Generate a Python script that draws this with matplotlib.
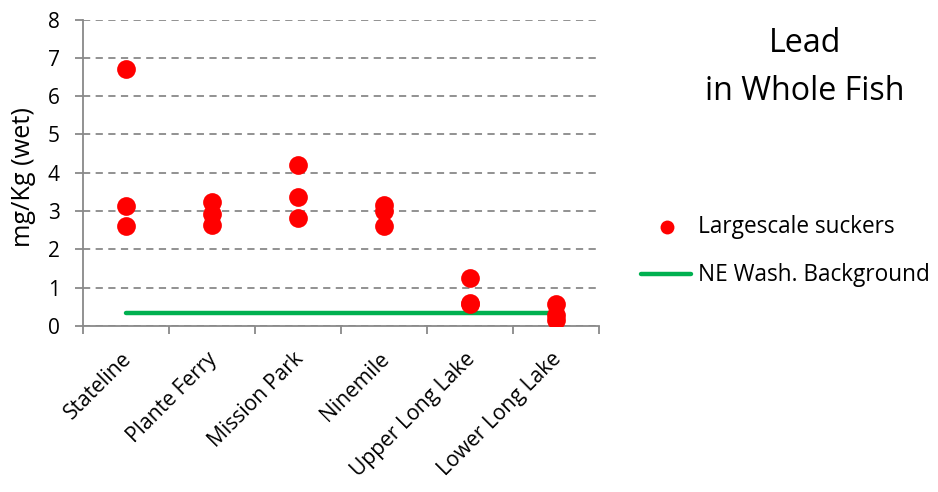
import matplotlib
matplotlib.use("Agg")
import matplotlib.pyplot as plt
from matplotlib.lines import Line2D
from matplotlib.font_manager import FontProperties
from matplotlib.textpath import TextToPath
from matplotlib.transforms import ScaledTranslation

sites = ["Stateline", "Plante Ferry", "Mission Park", "Ninemile", "Upper Long Lake", "Lower Long Lake"]
suckers = [
    [6.70, 3.14, 2.61],
    [3.24, 2.92, 2.63],
    [4.21, 3.36, 2.82],
    [3.16, 3.00, 2.61],
    [1.26, 0.58, 0.60],
    [0.57, 0.29, 0.15],
]
background = [0.33, 0.33, 0.33, 0.33, 0.33, 0.33]
yticks = [0, 1, 2, 3, 4, 5, 6, 7, 8]
legend_labels = ["Largescale suckers", "NE Wash. Background"]
title_lines = ["Lead", "in Whole Fish"]

FAMILY = 'Open Sans'
plt.rcParams['font.family'] = [FAMILY, 'DejaVu Sans']
_t2p = TextToPath()


def fit(text, target_px):
    w, h, d = _t2p.get_text_width_height_descent(text, FontProperties(family=FAMILY, size=100), ismath=False)
    return 100 * target_px / (w * 100 / 72)


title_fs = fit(title_lines[1], 200)
legend_fs = fit(legend_labels[0], 197)
xlab_fs = (fit(sites[0], 90) + fit(sites[4], 158)) / 2
ylab_fs = fit("mg/Kg (wet)", 140)
ytick_fs = 15

W, H = 938, 492
fig = plt.figure(figsize=(W / 100, H / 100), dpi=100)
ax = fig.add_axes([83 / W, 1 - 326 / H, (599 - 83) / W, (326 - 19.5) / H])

GREEN = '#00B050'
RED = '#FF0000'
GREY = '#898989'

xs = list(range(len(sites)))
ax.plot(xs, background, color=GREEN, lw=3.2, solid_capstyle='round', zorder=2)
for i, vals in enumerate(suckers):
    ax.plot([i] * len(vals), vals, 'o', color=RED, ms=13.5, mec='none', zorder=3)

ax.set_xlim(-0.5, len(sites) - 0.5)
ax.set_ylim(0, 8)
ax.set_yticks(yticks)
ax.set_yticklabels([str(v) for v in yticks], fontsize=ytick_fs)
ax.yaxis.grid(True, color=GREY, ls=(0, (4, 3)), lw=1.3)
ax.set_axisbelow(True)

ax.set_xticks([i - 0.5 for i in range(len(sites) + 1)], minor=False)
ax.set_xticklabels([])
ax.set_xticks(xs, minor=True)
ax.set_xticklabels(sites, minor=True, rotation=45, ha='right', va='top', fontsize=xlab_fs,
                   rotation_mode='anchor')
ax.tick_params(axis='x', which='minor', length=0, pad=16)
ax.tick_params(axis='x', which='major', length=5.5, color=GREY, width=1.3)
ax.tick_params(axis='y', length=5.8, color=GREY, width=1.3, pad=11)
shift = ScaledTranslation(-5 / 100, 0, fig.dpi_scale_trans)
for lab in ax.get_xticklabels(minor=True):
    lab.set_transform(lab.get_transform() + shift)

for s in ['top', 'right']:
    ax.spines[s].set_visible(False)
for s in ['left', 'bottom']:
    ax.spines[s].set_color(GREY)
    ax.spines[s].set_linewidth(1.3)

ax.set_ylabel("mg/Kg (wet)", fontsize=ylab_fs, va='center')
ax.yaxis.set_label_coords((24 - 83) / (599 - 83), (326 - 177) / (326 - 19.5))

fig.text(805 / W, 1 - 52.5 / H, title_lines[0], fontsize=title_fs, ha='center', va='baseline')
fig.text(805 / W, 1 - 100.5 / H, title_lines[1], fontsize=title_fs, ha='center', va='baseline')


def fx(px):
    return px / W


def fy(py):
    return 1 - py / H


fig.add_artist(Line2D([fx(666.5)], [fy(226.5)], marker='o', color=RED, ms=10, mec='none', ls='none',
                      transform=fig.transFigure))
fig.add_artist(Line2D([fx(641), fx(691)], [fy(274), fy(274)], color=GREEN, lw=3.2,
                      solid_capstyle='round', transform=fig.transFigure))
fig.text(fx(698), fy(233), legend_labels[0], fontsize=legend_fs, ha='left', va='baseline')
fig.text(fx(698), fy(281), legend_labels[1], fontsize=legend_fs, ha='left', va='baseline')

fig.savefig("out.png", dpi=100)
